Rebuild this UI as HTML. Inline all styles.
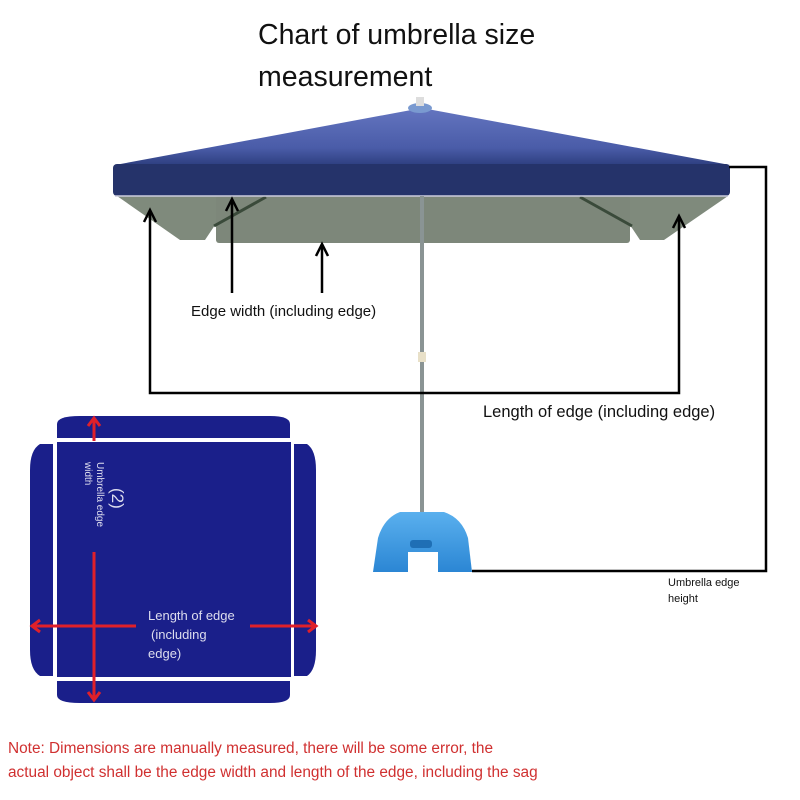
<!DOCTYPE html>
<html><head><style>
body{margin:0;background:#fff}
svg{display:block}
text{font-family:"Liberation Sans",sans-serif}
</style></head><body>
<svg width="800" height="800" viewBox="0 0 800 800" xmlns="http://www.w3.org/2000/svg">
<defs>
<linearGradient id="top" x1="0" y1="0" x2="0" y2="1">
<stop offset="0" stop-color="#6475c0"/><stop offset="0.7" stop-color="#4a5ca8"/><stop offset="1" stop-color="#2e3f80"/>
</linearGradient>
<linearGradient id="base" x1="0" y1="0" x2="0" y2="1">
<stop offset="0" stop-color="#5ab0ee"/><stop offset="1" stop-color="#2b86d4"/>
</linearGradient>
</defs>
<text x="258" y="44" font-size="28.5" fill="#111">Chart of umbrella size</text>
<text x="258" y="86" font-size="28.5" fill="#111">measurement</text>

<!-- valance -->
<polygon points="117,196 266,196 215,225 205,240 180,240" fill="#7f8a7c"/>
<polygon points="728,196 580,196 630,225 640,240 664,240" fill="#7f8a7c"/>
<rect x="216" y="196" width="414" height="47" rx="3" fill="#7d877a"/>
<line x1="266" y1="197" x2="214" y2="226" stroke="#3a4a3a" stroke-width="3"/>
<line x1="580" y1="197" x2="632" y2="226" stroke="#3a4a3a" stroke-width="3"/>
<!-- canopy -->
<polygon points="422,108 115,165 730,165" fill="url(#top)"/>
<rect x="113" y="164" width="617" height="32" rx="4" fill="#25336a"/>
<line x1="115" y1="196" x2="728" y2="196" stroke="#ccd" stroke-width="1.5"/>
<ellipse cx="420" cy="108" rx="12" ry="5" fill="#7a9ad0"/>
<rect x="416" y="97" width="8" height="9" fill="#ddd"/>
<!-- pole -->
<rect x="420" y="196" width="4" height="316" fill="#8a9494"/>
<rect x="418" y="352" width="8" height="10" fill="#e8e0c8"/>
<!-- base -->
<path d="M378,538 Q384,518 400,512 L444,512 Q462,518 468,538 L472,572 L373,572 Z" fill="url(#base)"/>
<rect x="408" y="552" width="30" height="20" fill="#fff"/>
<rect x="410" y="540" width="22" height="8" rx="3" fill="#1f6fb5"/>

<!-- black lines -->
<g stroke="#000" stroke-width="2.5" fill="none">
<polyline points="150,212 150,393 679,393 679,216"/>
<polyline points="144,222 150,210 156,222"/>
<polyline points="673,228 679,216 685,228"/>
<line x1="232" y1="199" x2="232" y2="293"/><polyline points="226,211 232,199 238,211"/>
<line x1="322" y1="244" x2="322" y2="293"/><polyline points="316,256 322,244 328,256"/>
<polyline points="729,167 766,167 766,571 472,571"/>
</g>
<text x="191" y="316" font-size="15" fill="#111">Edge width (including edge)</text>
<text x="483" y="417" font-size="16.5" fill="#111">Length of edge (including edge)</text>
<text x="668" y="586" font-size="11" fill="#111">Umbrella edge</text>
<text x="668" y="602" font-size="11" fill="#111">height</text>

<!-- flat pattern -->
<g fill="#1a1f8a">
<path d="M57,438 L57,424 Q57,416 80,416 L270,416 Q290,416 290,424 L290,438 Z"/>
<rect x="57" y="442" width="234" height="235"/>
<path d="M57,681 L290,681 L290,695 Q290,703 270,703 L80,703 Q57,703 57,695 Z"/>
<path d="M53,444 L40,444 Q30,450 30,470 L30,650 Q30,670 40,676 L53,676 Z"/>
<path d="M294,444 L307,444 Q316,450 316,470 L316,650 Q316,670 307,676 L294,676 Z"/>
</g>
<g stroke="#e0202a" stroke-width="3" fill="none">
<line x1="94" y1="420" x2="94" y2="441"/><polyline points="88,426 94,418 100,426"/>
<line x1="94" y1="552" x2="94" y2="700"/><polyline points="88,692 94,700 100,692"/>
<line x1="32" y1="626" x2="136" y2="626"/><polyline points="40,620 32,626 40,632"/>
<line x1="250" y1="626" x2="316" y2="626"/><polyline points="308,620 316,626 308,632"/>
</g>
<text x="148" y="620" font-size="13" fill="#dde">Length of edge</text>
<text x="151" y="639" font-size="13" fill="#dde">(including</text>
<text x="148" y="658" font-size="13" fill="#dde">edge)</text>
<g transform="translate(97,462) rotate(90)" fill="#dde">
<text x="0" y="0" font-size="10">Umbrella edge</text>
<text x="0" y="12" font-size="10">width</text>
</g>
<text transform="translate(112,488) rotate(90)" font-size="17" fill="#dde">(2)</text>

<text x="8" y="753" font-size="15.4" fill="#d03030">Note: Dimensions are manually measured, there will be some error, the</text>
<text x="8" y="777" font-size="15.4" fill="#d03030">actual object shall be the edge width and length of the edge, including the sag</text>
</svg>
</body></html>
